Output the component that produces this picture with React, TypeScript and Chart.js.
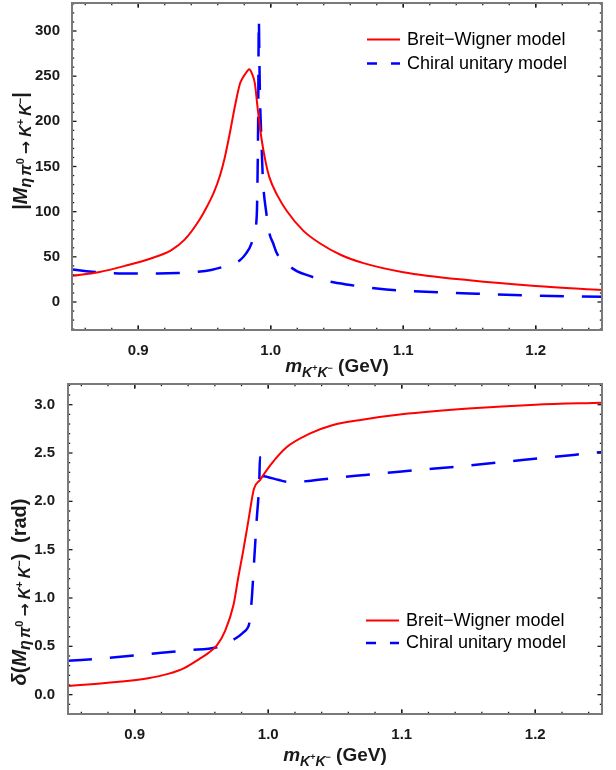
import React, { useEffect, useRef } from "react";
import { Chart, registerables } from "chart.js";

Chart.register(...registerables);

const FONT = '"Liberation Sans", Arial, Helvetica, sans-serif';
const ARROW_FONT = '"DejaVu Sans", "Liberation Sans", sans-serif';
const TICK_COLOR = "#1a1a1a";

// ---------- data ----------
const X_MIN = 0.85;
const X_MAX = 1.25;
const X_TICKS = [0.9, 1.0, 1.1, 1.2];
const AMP_TICKS = [0, 50, 100, 150, 200, 250, 300];
const PHASE_TICKS = [0, 0.5, 1.0, 1.5, 2.0, 2.5, 3.0];
const SERIES_LABELS = ["Breit\u2212Wigner model", "Chiral unitary model"];

// |M| Breit-Wigner
const BW_AMP_X = [0.85, 0.87, 0.89, 0.91, 0.925, 0.935, 0.946, 0.952, 0.957, 0.9617, 0.965, 0.969, 0.973, 0.9768, 0.979, 0.981, 0.9825, 0.9838, 0.9855, 0.988, 0.99, 0.993, 0.996, 0.999, 1.005, 1.012, 1.0245, 1.037, 1.053, 1.07, 1.1, 1.15, 1.2, 1.25];
const BW_AMP_Y = [29, 33, 40, 48.5, 57.5, 69, 90.5, 106, 121, 140, 158, 186, 217, 241.8, 248.5, 253, 256, 257.6, 254, 242, 216, 181, 156, 138, 118, 101, 79, 65, 52, 43, 33, 24, 17.7, 13.2];

// |M| chiral unitary
const CU_AMP_X = [0.85, 0.865, 0.88, 0.9, 0.915, 0.93, 0.945, 0.955, 0.962, 0.97, 0.9765, 0.981, 0.9855, 0.988, 0.9895, 0.99, 0.9905, 0.991, 0.9915, 0.992, 0.9928, 0.994, 0.9967, 0.999, 1.0018, 1.004, 1.008, 1.0145, 1.02, 1.027, 1.04, 1.06, 1.08, 1.1, 1.15, 1.2, 1.25];
const CU_AMP_Y = [36, 33.5, 32, 31.5, 31.5, 32, 33.5, 35.5, 38, 42, 46, 53, 65, 80, 98, 135, 200, 313, 260, 220, 186, 138, 98, 76, 65, 56, 46, 39, 34, 30, 24, 18.8, 15, 12.5, 9.5, 7, 5.8];

// phase Breit-Wigner
const BW_PH_X = [0.85, 0.87, 0.89, 0.91, 0.925, 0.937, 0.949, 0.955, 0.9615, 0.9677, 0.974, 0.9775, 0.981, 0.985, 0.9893, 0.9938, 1.0013, 1.0137, 1.031, 1.0485, 1.068, 1.1, 1.15, 1.2, 1.25];
const BW_PH_Y = [0.09, 0.11, 0.135, 0.17, 0.215, 0.275, 0.376, 0.43, 0.51, 0.66, 0.93, 1.21, 1.47, 1.79, 2.13, 2.22, 2.37, 2.56, 2.7, 2.79, 2.84, 2.9, 2.96, 3.0, 3.02];

// phase chiral unitary
const CU_PH_X = [0.85, 0.88, 0.91, 0.94, 0.9615, 0.97, 0.976, 0.981, 0.9845, 0.9858, 0.9876, 0.9895, 0.9913, 0.9933, 0.9938, 0.9945, 0.997, 1.0, 1.008, 1.016, 1.03, 1.0485, 1.07, 1.1, 1.15, 1.192, 1.25];
const CU_PH_Y = [0.35, 0.38, 0.42, 0.46, 0.49, 0.54, 0.586, 0.64, 0.69, 0.74, 0.98, 1.4, 1.8, 2.22, 2.46, 2.29, 2.26, 2.25, 2.22, 2.2, 2.21, 2.24, 2.27, 2.31, 2.37, 2.43, 2.51];

// ---------- rich text ----------
type Seg = { t: string; size: number; dy?: number; italic?: boolean; gap?: number; fam?: string };

function segFont(s: Seg) {
  return `${s.italic ? "italic " : ""}bold ${s.size}px ${s.fam || FONT}`;
}

function drawRich(ctx: CanvasRenderingContext2D, segs: Seg[], x: number, y: number, angle: number) {
  ctx.save();
  ctx.translate(x, y);
  ctx.rotate(angle);
  ctx.textAlign = "left";
  ctx.textBaseline = "alphabetic";
  ctx.fillStyle = TICK_COLOR;
  let total = 0;
  const widths = segs.map((s) => {
    ctx.font = segFont(s);
    const w = ctx.measureText(s.t).width + (s.gap || 0);
    total += w;
    return w;
  });
  let cx = -total / 2;
  segs.forEach((s, i) => {
    ctx.font = segFont(s);
    ctx.fillText(s.t, cx, s.dy || 0);
    cx += widths[i];
  });
  ctx.restore();
}

const YM = 20;
const YS = 16;
const YP = 11;
const SDY = 4;
const PDY = -3;

const SUB_M: Seg[] = [
  { t: "\u03B7", size: YS, dy: SDY, italic: true, gap: 2 },
  { t: "\u03C0", size: YS, dy: SDY, italic: true },
  { t: "0", size: YP, dy: PDY, gap: 4 },
  { t: "\u2192", size: YS, dy: SDY, gap: 4, fam: ARROW_FONT },
  { t: "K", size: YS, dy: SDY, italic: true },
  { t: "+", size: YP, dy: PDY, gap: 3 },
  { t: "K", size: YS, dy: SDY, italic: true },
  { t: "\u2212", size: YP, dy: PDY },
];

const AMP_TITLE: Seg[] = [
  { t: "|", size: YM },
  { t: "M", size: YM, italic: true },
  ...SUB_M,
  { t: "|", size: YM },
];
const PHASE_TITLE: Seg[] = [
  { t: "\u03B4", size: YM, italic: true },
  { t: "(", size: YM },
  { t: "M", size: YM, italic: true },
  ...SUB_M,
  { t: ")", size: YM, gap: 5 },
  { t: " (rad)", size: YM },
];
const X_TITLE: Seg[] = [
  { t: "m", size: 19, italic: true },
  { t: "K", size: 14, dy: 5, italic: true },
  { t: "+", size: 9, dy: -1 },
  { t: "K", size: 14, dy: 5, italic: true },
  { t: "\u2212", size: 9, dy: -1 },
  { t: " (GeV)", size: 19 },
];

type PanelCfg = {
  height: number;
  top: number;
  yW: number;
  xH: number;
  yMin: number;
  yMax: number;
  yTicks: number[];
  yMinor: number;
  yDecimals: number;
  yPad: number;
  yTitle: Seg[];
  yTitleX: number;
  yTitleY: number;
  xTitleY: number;
  legX0: number;
  legX1: number;
  legTX: number;
  legRows: number[];
  bwX: number[];
  bwY: number[];
  cuX: number[];
  cuY: number[];
};

function makeDeco(cfg: PanelCfg) {
  return {
    id: "deco",
    afterDraw(chart: any) {
      const ctx: CanvasRenderingContext2D = chart.ctx;
      const a = chart.chartArea;
      const xs = chart.scales.x;
      const ys = chart.scales.y;
      ctx.save();
      ctx.strokeStyle = TICK_COLOR;
      ctx.lineWidth = 1.3;
      const line = (x1: number, y1: number, x2: number, y2: number) => {
        ctx.beginPath();
        ctx.moveTo(x1, y1);
        ctx.lineTo(x2, y2);
        ctx.stroke();
      };
      const isMajor = (v: number, majors: number[], step: number) => majors.some((m) => Math.abs(m - v) < step * 0.01);
      const xStep = 0.02;
      for (let i = Math.ceil(X_MIN / xStep - 1e-6); i * xStep <= X_MAX + 1e-9; i++) {
        const v = i * xStep;
        const len = isMajor(v, X_TICKS, xStep) ? 4.5 : 2.2;
        const p = xs.getPixelForValue(v);
        line(p, a.bottom, p, a.bottom - len);
        line(p, a.top, p, a.top + len);
      }
      for (const v of X_TICKS) {
        const p = xs.getPixelForValue(v);
        line(p, a.bottom, p, a.bottom - 4.5);
        line(p, a.top, p, a.top + 4.5);
      }
      const yStep = cfg.yMinor;
      for (let i = Math.ceil(cfg.yMin / yStep - 1e-6); i * yStep <= cfg.yMax + 1e-9; i++) {
        const v = i * yStep;
        const len = isMajor(v, cfg.yTicks, yStep) ? 4.5 : 2.2;
        const p = ys.getPixelForValue(v);
        line(a.left, p, a.left + len, p);
        line(a.right, p, a.right - len, p);
      }
      ctx.strokeStyle = "#7a7a7a";
      ctx.lineWidth = 2;
      ctx.strokeRect(a.left, a.top, a.right - a.left, a.bottom - a.top);

      const ds = chart.data.datasets;
      ds.forEach((d: any, i: number) => {
        const ly = cfg.legRows[i];
        ctx.save();
        ctx.strokeStyle = d.borderColor;
        ctx.lineWidth = d.borderWidth;
        if (d.borderDash) ctx.setLineDash([10, 14]);
        line(cfg.legX0, ly, cfg.legX1, ly);
        ctx.restore();
        ctx.fillStyle = "#000";
        ctx.font = `18px ${FONT}`;
        ctx.textAlign = "left";
        ctx.textBaseline = "alphabetic";
        ctx.fillText(d.label, cfg.legTX, ly + 5);
      });

      drawRich(ctx, cfg.yTitle, cfg.yTitleX, cfg.yTitleY, -Math.PI / 2);
      drawRich(ctx, X_TITLE, (a.left + a.right) / 2, cfg.xTitleY, 0);
      ctx.restore();
    },
  };
}

function buildConfig(cfg: PanelCfg): any {
  const pts = (xv: number[], yv: number[]) => xv.map((x, i) => ({ x, y: yv[i] }));
  return {
    type: "line",
    data: {
      datasets: [
        {
          label: SERIES_LABELS[0],
          data: pts(cfg.bwX, cfg.bwY),
          borderColor: "#ff0000",
          borderWidth: 2,
          pointRadius: 0,
          fill: false,
          cubicInterpolationMode: "monotone",
        },
        {
          label: SERIES_LABELS[1],
          data: pts(cfg.cuX, cfg.cuY),
          borderColor: "#0000ff",
          borderWidth: 2.5,
          borderDash: [24, 18],
          pointRadius: 0,
          fill: false,
          cubicInterpolationMode: "monotone",
        },
      ],
    },
    options: {
      responsive: false,
      animation: false,
      devicePixelRatio: 1,
      layout: { padding: { left: 0, right: 14, top: cfg.top, bottom: 0 } },
      plugins: { legend: { display: false }, tooltip: { enabled: false } },
      scales: {
        x: {
          type: "linear",
          min: X_MIN,
          max: X_MAX,
          afterBuildTicks: (s: any) => {
            s.ticks = X_TICKS.map((v) => ({ value: v }));
          },
          afterFit: (s: any) => {
            s.height = cfg.xH;
            s.paddingLeft = 0;
            s.paddingRight = 0;
          },
          grid: { display: false },
          border: { display: false },
          ticks: {
            autoSkip: false,
            maxRotation: 0,
            padding: 4,
            color: TICK_COLOR,
            font: { family: FONT, size: 15, weight: "bold" },
            callback: (v: any) => Number(v).toFixed(1),
          },
        },
        y: {
          type: "linear",
          min: cfg.yMin,
          max: cfg.yMax,
          afterBuildTicks: (s: any) => {
            s.ticks = cfg.yTicks.map((v) => ({ value: v }));
          },
          afterFit: (s: any) => {
            s.width = cfg.yW;
            s.paddingTop = 0;
            s.paddingBottom = 0;
          },
          grid: { display: false },
          border: { display: false },
          ticks: {
            autoSkip: false,
            padding: cfg.yPad,
            color: TICK_COLOR,
            font: { family: FONT, size: 15, weight: "bold" },
            callback: (v: any) => Number(v).toFixed(cfg.yDecimals),
          },
        },
      },
    },
    plugins: [makeDeco(cfg)],
  };
}

const TOP_CFG: PanelCfg = {
  height: 380,
  top: 3,
  yW: 72,
  xH: 50,
  yMin: -31,
  yMax: 331,
  yTicks: AMP_TICKS,
  yMinor: 10,
  yDecimals: 0,
  yPad: 4,
  yTitle: AMP_TITLE,
  yTitleX: 27,
  yTitleY: 151,
  xTitleY: 372,
  legX0: 367,
  legX1: 400,
  legTX: 407,
  legRows: [39.5, 63.5],
  bwX: BW_AMP_X,
  bwY: BW_AMP_Y,
  cuX: CU_AMP_X,
  cuY: CU_AMP_Y,
};

const BOTTOM_CFG: PanelCfg = {
  height: 390,
  top: 4,
  yW: 68,
  xH: 56,
  yMin: -0.2,
  yMax: 3.214,
  yTicks: PHASE_TICKS,
  yMinor: 0.1,
  yDecimals: 1,
  yPad: 5,
  yTitle: PHASE_TITLE,
  yTitleX: 26,
  yTitleY: 212,
  xTitleY: 381,
  legX0: 366,
  legX1: 399,
  legTX: 406,
  legRows: [240.5, 263],
  bwX: BW_PH_X,
  bwY: BW_PH_Y,
  cuX: CU_PH_X,
  cuY: CU_PH_Y,
};

function Panel({ cfg }: { cfg: PanelCfg }) {
  const ref = useRef<HTMLCanvasElement | null>(null);
  useEffect(() => {
    if (!ref.current) return;
    const chart = new Chart(ref.current, buildConfig(cfg));
    return () => chart.destroy();
  }, [cfg]);
  return <canvas ref={ref} width={616} height={cfg.height} style={{ display: "block", width: 616, height: cfg.height }} />;
}

export default function App() {
  return (
    <div style={{ position: "absolute", left: 0, top: 0, width: 616, height: 770, background: "#fff" }}>
      <Panel cfg={TOP_CFG} />
      <Panel cfg={BOTTOM_CFG} />
    </div>
  );
}
